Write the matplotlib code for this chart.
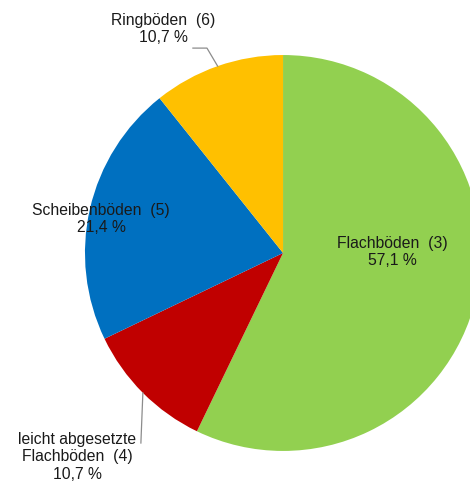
import numpy as np
import matplotlib
matplotlib.use("Agg")
import matplotlib.pyplot as plt

plt.rcParams['font.family'] = ['Liberation Sans', 'DejaVu Sans']

# data (clockwise from 12 o'clock)
names = ["Flachböden  (3)", "leicht abgesetzte\nFlachböden  (4)",
         "Scheibenböden  (5)", "Ringböden  (6)"]
shares = [57.1, 10.7, 21.4, 10.7]
colors = ["#92D050", "#C00000", "#0070C0", "#FFC000"]

fig = plt.figure(figsize=(4.70, 4.84), dpi=100)
ax = fig.add_axes([0, 0, 1, 1])
ax.pie(shares, colors=colors, startangle=90, counterclock=False,
       radius=1.0, wedgeprops=dict(linewidth=0))
ax.set_xlim(-1.429, 0.944)
ax.set_ylim(-1.167, 1.278)
ax.set_aspect('auto')
ax.axis('off')

labels = [f"{n}\n{p:.1f} %".replace('.', ',') for n, p in zip(names, shares)]

# label positions (axes data units)
pos = [(0.551, 0.005), (-1.040, -1.030), (-0.919, 0.172), (-0.606, 1.131)]
for lab, (x, y) in zip(labels, pos):
    ax.text(x, y, lab, ha='center', va='center', fontsize=11.3,
            color='#1a1a1a', linespacing=1.22)

# leader lines from wedge midpoints
bounds = 90 - np.cumsum([0] + shares) / sum(shares) * 360
mids = np.deg2rad((bounds[:-1] + bounds[1:]) / 2)

# Ringböden
px, py = np.cos(mids[3]), np.sin(mids[3])
ax.plot([-0.455, -0.384, px], [1.035, 1.035, py], color='#8c8c8c', lw=0.9)
# leicht abgesetzte Flachböden
px, py = np.cos(mids[1]), np.sin(mids[1])
ax.plot([px, px - 0.010], [py, -0.960], color='#8c8c8c', lw=0.9)

fig.savefig("out.png", dpi=100)
